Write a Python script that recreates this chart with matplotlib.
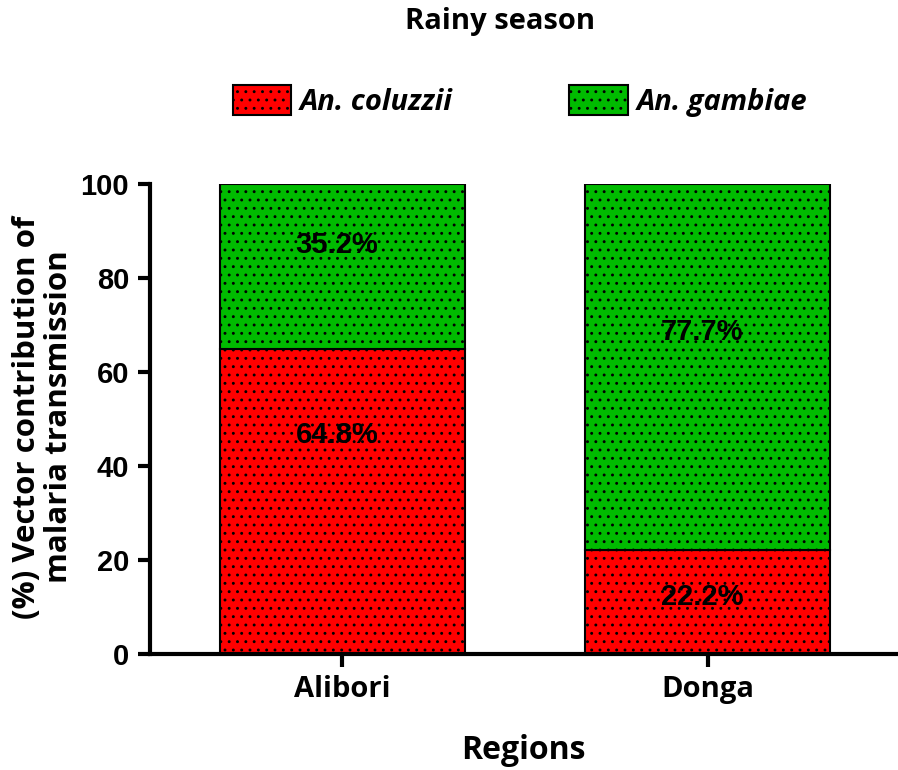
import matplotlib
matplotlib.use("Agg")
import matplotlib.pyplot as plt
from matplotlib.patches import Patch
import numpy as np

regions = ["Alibori", "Donga"]
coluzzii = [64.8, 22.2]
gambiae = [35.2, 77.7]
series_names = ["An. coluzzii", "An. gambiae"]
colors = ["#ff0000", "#00bb00"]
yticks = [0, 20, 40, 60, 80, 100]

# label anchor heights (as drawn in the original figure)
coluzzii_label_y = [46.6, 12.1]
gambiae_label_y = [87.0, 68.5]

plt.rcParams['hatch.color'] = 'black'
plt.rcParams['hatch.linewidth'] = 0.9

fig = plt.figure(figsize=(8.98, 7.70), dpi=100)
ax = fig.add_axes([150/898, 1-654/770, (896-150)/898, (654-184)/770])

x = np.arange(len(regions))
w = 0.67
ax.bar(x, coluzzii, w, color=colors[0], edgecolor='black', linewidth=1.5, hatch='..')
ax.bar(x, gambiae, w, bottom=coluzzii, color=colors[1], edgecolor='black', linewidth=1.5, hatch='..')

lblfont = dict(family='Liberation Sans', weight='bold', size=21)
for i in range(len(regions)):
    ax.text(x[i] - 0.015, coluzzii_label_y[i], f"{coluzzii[i]}%", ha='center', va='center', **lblfont)
    ax.text(x[i] - 0.015, gambiae_label_y[i], f"{gambiae[i]}%", ha='center', va='center', **lblfont)

ax.set_xlim(-0.527, 1.516)
ax.set_ylim(0, 100)
ax.set_yticks(yticks)
ax.set_xticks(x)
ax.set_xticklabels(regions, family='Open Sans', weight='bold', size=21)
for t in ax.get_yticklabels():
    t.set_family('Liberation Sans'); t.set_weight('bold'); t.set_size(21)
for s in ['top', 'right']:
    ax.spines[s].set_visible(False)
for s in ['left', 'bottom']:
    ax.spines[s].set_linewidth(3)
ax.tick_params(axis='both', width=3, length=9, pad=6)

ax.set_xlabel("Regions", family='Open Sans', weight='bold', size=23, labelpad=22)
fig.text(43/898, 1-417/770, "(%) Vector contribution of\nmalaria transmission", rotation=90,
         ha='center', va='center', family='Open Sans', weight='bold', size=22.5, linespacing=1.12)

fig.text(500/898, 1-22/770, "Rainy season", ha='center', va='center', family='Open Sans', weight='bold', size=21)

handles = [Patch(facecolor=colors[i], edgecolor='black', hatch='..', linewidth=1.5) for i in range(2)]
leg = fig.legend(handles, series_names, loc='center', bbox_to_anchor=(520/898, 1-101/770), ncol=2,
                 frameon=False, prop=dict(family='Open Sans', weight='bold', style='italic', size=21),
                 handlelength=2.0, handleheight=1.2, columnspacing=4.0, handletextpad=0.3)

fig.savefig("out.png", dpi=100)
